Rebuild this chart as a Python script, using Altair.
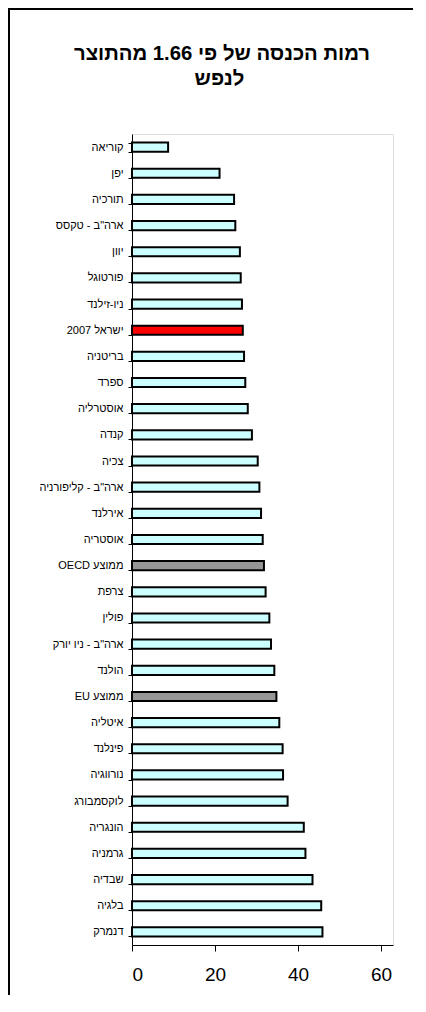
import altair as alt
import pandas as pd

categories = [
    "קוריאה", "יפן", "תורכיה", 'ארה"ב - טקסס', "יוון", "פורטוגל", "ניו-זילנד",
    "ישראל 2007", "בריטניה", "ספרד", "אוסטרליה", "קנדה", "צכיה",
    'ארה"ב - קליפורניה', "אירלנד", "אוסטריה", "ממוצע OECD", "צרפת", "פולין",
    'ארה"ב - ניו יורק', "הולנד", "ממוצע EU", "איטליה", "פינלנד", "נורווגיה",
    "לוקסמבורג", "הונגריה", "גרמניה", "שבדיה", "בלגיה", "דנמרק",
]
values = [
    8.7, 21.1, 24.6, 24.9, 26.0, 26.2, 26.5,
    26.7, 27.0, 27.3, 27.9, 28.9, 30.3,
    30.7, 31.1, 31.5, 31.8, 32.2, 33.1,
    33.5, 34.3, 34.8, 35.5, 36.3, 36.4,
    37.5, 41.4, 41.8, 43.5, 45.6, 45.9,
]
groups = [
    "country", "country", "country", "country", "country", "country", "country",
    "israel", "country", "country", "country", "country", "country",
    "country", "country", "country", "average", "country", "country",
    "country", "country", "average", "country", "country", "country",
    "country", "country", "country", "country", "country", "country",
]
x_ticks = [0, 20, 40, 60]
title_lines = ["רמות הכנסה של פי 1.66 מהתוצר", "לנפש"]

RLE, PDF = "\u202b", "\u202c"
FONT = "Liberation Sans"

df = pd.DataFrame({"country": categories, "value": values, "group": groups})

bars = alt.Chart(df).mark_bar(stroke="black", strokeWidth=2).encode(
    y=alt.Y(
        "country:N",
        sort=categories,
        scale=alt.Scale(paddingInner=0.65, paddingOuter=0.325),
        axis=alt.Axis(
            title=None,
            labelFont=FONT,
            labelFontSize=11,
            labelFontWeight="normal",
            labelColor="black",
            labelPadding=5,
            tickSize=4,
            tickColor="black",
            tickBand="extent",
            domainColor="black",
            labelExpr="'" + RLE + "' + datum.label + '" + PDF + "'",
        ),
    ),
    x=alt.X(
        "value:Q",
        scale=alt.Scale(domain=[0, 62.9], nice=False, zero=True),
        axis=alt.Axis(
            title=None,
            values=x_ticks,
            grid=False,
            labelFont=FONT,
            labelFontSize=19,
            labelColor="black",
            labelPadding=14,
            tickSize=6,
            tickColor="black",
            domainColor="black",
        ),
    ),
    color=alt.Color(
        "group:N",
        scale=alt.Scale(
            domain=["country", "israel", "average"],
            range=["#CCFFFF", "#FF0000", "#969696"],
        ),
        legend=None,
    ),
)

one = pd.DataFrame({"k": [0]})

title1 = alt.Chart(one).mark_text(
    font=FONT, fontSize=20.3, fontWeight="bold", color="black",
    align="center", baseline="middle",
).encode(x=alt.value(90), y=alt.value(-80), text=alt.value(RLE + title_lines[0] + PDF))

title2 = alt.Chart(one).mark_text(
    font=FONT, fontSize=20.3, fontWeight="bold", color="black",
    align="center", baseline="middle",
).encode(x=alt.value(87.5), y=alt.value(-55), text=alt.value(RLE + title_lines[1] + PDF))

left_border = alt.Chart(one).mark_rect(color="black").encode(
    x=alt.value(-124), x2=alt.value(-122), y=alt.value(-126), y2=alt.value(900)
)
top_border = alt.Chart(one).mark_rect(color="black").encode(
    x=alt.value(-124), x2=alt.value(281), y=alt.value(-126), y2=alt.value(-124)
)

chart = (
    alt.layer(bars, title1, title2, left_border, top_border)
    .properties(
        width=261,
        height=811,
        autosize=alt.AutoSizeParams(type="none"),
        padding={"left": 124, "top": 126, "right": 20, "bottom": 50},
    )
    .configure_view(stroke="#808080", strokeWidth=1)
    .configure(background="white")
)

chart.save("out.html", embed_options={"renderer": "svg", "actions": False})
